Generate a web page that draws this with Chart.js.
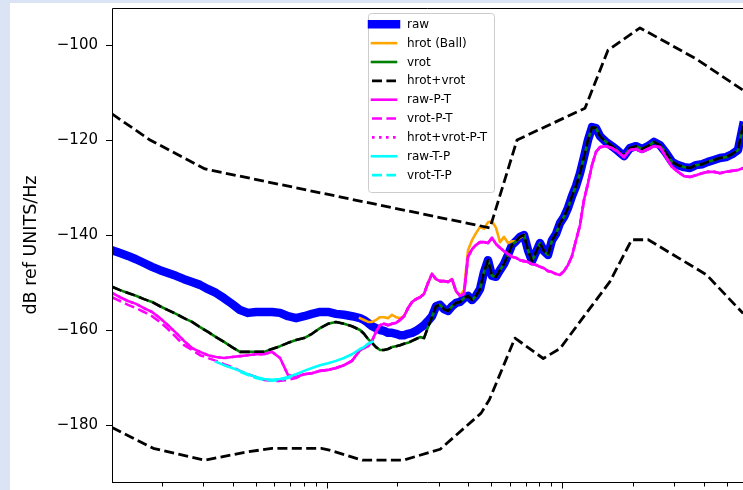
<!DOCTYPE html>
<html>
<head>
<meta charset="utf-8">
<script src="https://cdn.jsdelivr.net/npm/chart.js@4.4.1/dist/chart.umd.min.js"></script>
<style>
  html, body { margin: 0; padding: 0; width: 743px; height: 490px; overflow: hidden; background: #dbe4f4; }
  #wrap { position: absolute; left: 10px; top: 3px; width: 733px; height: 487px; background: #ffffff; }
  canvas { display: block; }
</style>
</head>
<body>
<div id="wrap"><canvas id="psd" width="733" height="487"></canvas></div>
<script>
// Shared frequency grid (Hz) for the measured spectra
const freqHz = [
  0.0012267,0.0013267,0.0014346,0.0015511,0.0016774,0.0018141,0.0019616,0.0021213,0.0022939,0.0024806,
  0.0026826,0.0029008,0.0031369,0.0033923,0.0036683,0.0039668,0.0042897,0.0046388,0.0050163,0.0054246,
  0.0058662,0.0063435,0.0068598,0.0074181,0.0080218,0.0086696,0.0093753,0.010138,0.010962,0.011855,
  0.012820,0.013863,
  0.014417,0.014992,0.015590,0.016212,0.016858,0.017531,0.018230,0.018957,0.019713,0.020499,
  0.021317,0.022167,0.023051,0.023970,0.024926,0.025920,0.026954,0.028029,0.029147,0.030310,
  0.031519,0.032776,0.034083,0.035442,0.036856,0.038326,0.039855,0.041444,0.043097,0.044816,
  0.046604,0.048463,0.050396,0.052406,0.054496,0.056670,0.058930,0.061280,0.063724,0.066266,
  0.068909,0.071658,0.074516,0.077488,0.080579,0.083793,0.087135,0.090611,0.094225,0.097983,
  0.10189,0.10596,0.11018,0.11458,0.11915,0.12390,0.12884,0.13398,0.13933,0.14488,
  0.15360,0.16288,0.17272,0.18316,0.19423,0.20597,0.21842,0.23162,0.24562,0.26046,
  0.27620,0.29289,0.31059,0.32936,0.34926,0.37036,0.39274,0.41647,0.44164,0.46833,
  0.49663,0.52664,0.55846,0.5864
];

const rawDb = [
  -143.2,-143.8,-144.4,-145.1,-145.9,-146.7,-147.4,-148.0,-148.6,-149.3,
  -149.9,-150.5,-151.4,-152.2,-153.3,-154.5,-155.8,-156.4,-156.2,-156.2,
  -156.2,-156.4,-157.1,-157.5,-157.1,-156.6,-156.2,-156.2,-156.6,-156.8,
  -157.1,-157.5,
  -157.9,-158.5,-159.2,-159.6,-160.0,-160.2,-160.6,-160.6,-160.8,-161.1,
  -161.1,-160.8,-160.6,-160.2,-159.6,-159.0,-158.1,-157.1,
  -155.0,-154.7,-155.6,-156.0,-155.0,-154.3,-154.1,-153.3,-152.8,-153.7,
  -152.8,-151.4,-147.8,-145.3,-148.6,-148.8,-147.4,-146.1,-144.2,-142.1,
  -141.3,-140.4,-140.0,-143.2,-145.5,-143.6,-141.7,-143.4,-144.2,-141.1,
  -139.8,-137.5,-136.2,-134.3,-131.8,-129.7,-127.0,-123.6,-120.0,-117.3,
  -117.5,-119.2,
  -120.4,-121.3,-122.3,-123.4,-121.7,-121.3,-121.9,-121.3,-120.4,-121.1,
  -122.7,-124.6,-125.3,-125.7,-125.9,-125.3,-125.1,-124.6,-124.2,-123.8,
  -123.6,-123.0,-122.1,-117.0
];

const hrotBallDb = [
  null,null,null,null,null,null,null,null,null,null,
  null,null,null,null,null,null,null,null,null,null,
  null,null,null,null,null,null,null,null,null,null,
  null,-157.5,
  -157.9,-158.3,-158.3,-157.9,-157.3,-157.3,-157.5,-156.8,-157.3,-157.5,
  -157.1,-155.4,-154.1,-153.5,-153.1,-152.4,-150.1,-148.2,-149.3,-149.7,
  -149.7,-149.9,-149.3,-151.8,-152.8,-151.6,-143.2,-141.1,-139.6,-138.3,
  -138.7,-137.3,-137.1,-138.5,-141.5,-140.4,-141.7,-141.3,-141.3,-140.6,
  -140.0,null,null,null,null,null,null,null,null,null,
  null,null,null,null,null,null,null,null,null,null,
  null,null,null,null,null,null,null,null,null,null,
  null,null,null,null,null,null,null,null,null,null,
  null,null,null,null
];

const vrotDb = [
  -150.9,-151.6,-152.2,-152.8,-153.5,-154.1,-155.0,-155.8,-156.6,-157.5,
  -158.3,-159.4,-160.4,-161.5,-162.5,-163.6,-164.6,-164.6,-164.6,-164.6,
  -164.0,-163.4,-162.7,-162.1,-161.7,-160.8,-159.6,-158.7,-158.3,-158.7,
  -159.2,-160.0,
  -160.8,-161.9,-162.7,-163.6,-164.2,-164.2,-164.0,-163.6,-163.4,-163.2,
  -162.9,-162.7,-162.3,-161.9,-161.5,-161.7,-159.4,-157.3,
  -155.0,-154.7,-155.6,-156.0,-155.0,-154.3,-154.1,-153.3,-152.8,-153.7,
  -152.8,-151.4,-147.8,-145.3,-148.6,-148.8,-147.4,-146.1,-144.2,-142.1,
  -141.3,-140.4,-140.0,-143.2,-145.5,-143.6,-141.7,-143.4,-144.2,-141.1,
  -139.8,-137.5,-136.2,-134.3,-131.8,-129.7,-127.0,-123.6,-120.0,-117.3,
  -117.5,-119.2,
  -120.4,-121.3,-122.3,-123.4,-121.7,-121.3,-121.9,-121.3,-120.4,-121.1,
  -122.7,-124.6,-125.3,-125.7,-125.9,-125.3,-125.1,-124.6,-124.2,-123.8,
  -123.6,-123.0,-122.1,-117.0
];

const hrotVrotDb = [
  -150.9,-151.6,-152.2,-152.8,-153.5,-154.1,-155.0,-155.8,-156.6,-157.5,
  -158.3,-159.4,-160.4,-161.5,-162.5,-163.6,-164.6,-164.6,-164.6,-164.6,
  -164.0,-163.4,-162.7,-162.1,-161.7,-160.8,-159.6,-158.7,-158.3,-158.7,
  -159.2,-160.0,
  -160.8,-161.9,-162.7,-163.6,-164.2,-164.2,-164.0,-163.6,-163.4,-163.2,
  -162.9,-162.7,-162.3,-161.9,-161.5,-161.7,-159.4,-157.3,
  -155.0,-154.7,-155.6,-156.0,-155.0,-154.3,-154.1,-153.3,-152.8,-153.7,
  -152.8,-151.4,-147.8,-145.3,-148.6,-148.8,-147.4,-146.1,-144.2,-142.1,
  -141.3,-140.4,-140.0,-143.2,-145.5,-143.6,-141.7,-143.4,-144.2,-141.1,
  -139.8,-137.5,-136.2,-134.3,-131.8,-129.7,-127.0,-123.6,-120.0,-117.3,
  -117.5,-119.2,
  -120.4,-121.3,-122.3,-123.4,-121.7,-121.3,-121.9,-121.3,-120.4,-121.1,
  -122.7,-124.6,-125.3,-125.7,-125.9,-125.3,-125.1,-124.6,-124.2,-123.8,
  -123.6,-123.0,-122.1,-117.0
];

const rawPTDb = [
  -152.2,-153.1,-153.9,-154.5,-155.4,-156.2,-157.5,-159.0,-160.6,-162.3,
  -163.8,-164.6,-165.3,-165.7,-165.9,-165.7,-165.5,-165.3,-165.1,-165.1,
  -164.6,-165.9,-169.5,-169.9,-169.3,-169.1,-168.6,-168.4,-168.0,-167.4,
  -166.5,-164.2,
  -163.8,-163.4,-162.3,-160.4,-159.0,-158.7,-159.0,-158.7,-158.5,-157.9,
  -157.1,-155.4,-154.1,-153.5,-153.1,-152.4,-150.1,-148.2,-149.3,-149.7,
  -149.7,-149.9,-149.3,-151.8,-152.8,-152.4,-144.6,-143.0,-142.1,-141.5,
  -141.5,-141.7,-140.6,-141.9,-142.7,-143.4,-144.0,-144.6,-144.8,-145.3,
  -145.5,-145.7,-146.1,-146.3,-146.7,-147.0,-147.6,-147.8,-148.2,-148.4,
  -147.6,-146.3,-144.4,-141.1,-137.9,-132.6,-129.1,-125.3,-122.5,-121.5,
  -121.3,-121.7,-122.5,-123.6,-122.1,-121.9,-122.5,-121.9,-121.3,-121.5,
  -123.6,-125.7,-126.7,-127.6,-127.8,-127.4,-127.0,-126.7,-126.7,-127.0,
  -126.7,-126.5,-126.3,-125.9
];

const vrotPTDb = [
  -153.1,-153.9,-154.7,-155.4,-156.2,-157.1,-158.3,-159.8,-161.5,-163.2,
  -164.2,-165.3,-165.9,-166.5,-167.2,-167.8,-168.6,-169.3,-169.9,-170.5,
  -170.7,-170.7,-170.5,-170.1,-169.3,-169.1,-168.6,-168.4,-168.0,-167.4,
  -166.5,-164.2,
  -163.8,-163.4,-162.3,-160.4,-159.0,-158.7,-159.0,-158.7,-158.5,-157.9,
  -157.1,-155.4,-154.1,-153.5,-153.1,-152.4,-150.1,-148.2,-149.3,-149.7,
  -149.7,-149.9,-149.3,-151.8,-152.8,-152.4,-144.6,-143.0,-142.1,-141.5,
  -141.5,-141.7,-140.6,-141.9,-142.7,-143.4,-144.0,-144.6,-144.8,-145.3,
  -145.5,-145.7,-146.1,-146.3,-146.7,-147.0,-147.6,-147.8,-148.2,-148.4,
  -147.6,-146.3,-144.4,-141.1,-137.9,-132.6,-129.1,-125.3,-122.5,-121.5,
  -121.3,-121.7,-122.5,-123.6,-122.1,-121.9,-122.5,-121.9,-121.3,-121.5,
  -123.6,-125.7,-126.7,-127.6,-127.8,-127.4,-127.0,-126.7,-126.7,-127.0,
  -126.7,-126.5,-126.3,-125.9
];

const hrotVrotPTDb = [
  -152.2,-153.1,-153.9,-154.5,-155.4,-156.2,-157.5,-159.0,-160.6,-162.3,
  -163.8,-164.6,-165.3,-165.7,-165.9,-165.7,-165.5,-165.3,-165.1,-165.1,
  -164.6,-165.9,-169.5,-169.9,-169.3,-169.1,-168.6,-168.4,-168.0,-167.4,
  -166.5,-164.2,
  -163.8,-163.4,-162.3,-160.4,-159.0,-158.7,-159.0,-158.7,-158.5,-157.9,
  -157.1,-155.4,-154.1,-153.5,-153.1,-152.4,-150.1,-148.2,-149.3,-149.7,
  -149.7,-149.9,-149.3,-151.8,-152.8,-152.4,-144.6,-143.0,-142.1,-141.5,
  -141.5,-141.7,-140.6,-141.9,-142.7,-143.4,-144.0,-144.6,-144.8,-145.3,
  -145.5,-145.7,-146.1,-146.3,-146.7,-147.0,-147.6,-147.8,-148.2,-148.4,
  -147.6,-146.3,-144.4,-141.1,-137.9,-132.6,-129.1,-125.3,-122.5,-121.5,
  -121.3,-121.7,-122.5,-123.6,-122.1,-121.9,-122.5,-121.9,-121.3,-121.5,
  -123.6,-125.7,-126.7,-127.6,-127.8,-127.4,-127.0,-126.7,-126.7,-127.0,
  -126.7,-126.5,-126.3,-125.9
];

const rawTPDb = [
  null,null,null,null,null,null,null,null,null,null,
  null,null,null,-166.7,-167.4,-168.0,-168.6,-169.3,-169.9,-170.3,
  -170.5,-170.3,-169.9,-169.3,-168.6,-168.0,-167.4,-167.0,-166.5,-165.9,
  -165.1,-164.0,
  -163.6,-162.9,-162.5,null,null,null,null,null,null,null,
  null,null,null,null,null,null,null,null,null,null,
  null,null,null,null,null,null,null,null,null,null,
  null,null,null,null,null,null,null,null,null,null,
  null,null,null,null,null,null,null,null,null,null,
  null,null,null,null,null,null,null,null,null,null,
  null,null,null,null,null,null,null,null,null,null,
  null,null,null,null,null,null,null,null,null,null,
  null,null,null,null
];

const vrotTPDb = [
  null,null,null,null,null,null,null,null,null,null,
  null,null,null,null,null,null,-168.8,-169.5,-170.1,-170.5,
  -170.7,-170.5,-170.1,-169.5,null,null,null,null,null,null,
  null,null,
  null,null,null,null,null,null,null,null,null,null,
  null,null,null,null,null,null,null,null,null,null,
  null,null,null,null,null,null,null,null,null,null,
  null,null,null,null,null,null,null,null,null,null,
  null,null,null,null,null,null,null,null,null,null,
  null,null,null,null,null,null,null,null,null,null,
  null,null,null,null,null,null,null,null,null,null,
  null,null,null,null,null,null,null,null,null,null,
  null,null,null,null
];

// Peterson high / low noise models
const highNoiseHz = [0.0012267,0.0017787,0.0030457,0.049411,0.064365,0.1251,0.1566,0.2142,0.3704,0.5864];
const highNoiseDb = [-114.5,-120.0,-126.1,-138.5,-120.0,-113.3,-101.1,-96.4,-102.9,-109.5];
const lowNoiseHz = [0.0012267,0.001837,0.003032,0.004433,0.00586,0.0095,0.01029,0.01419,0.02118,0.03036,
                    0.0453,0.0491,0.0631,0.0832,0.098,0.1596,0.1975,0.2323,0.411,0.5864];
const lowNoiseDb = [-180.5,-184.9,-187.4,-185.8,-184.9,-184.9,-185.3,-187.4,-187.4,-185.1,
                    -177.5,-174.7,-161.7,-166.0,-163.9,-149.8,-141.0,-141.0,-148.4,-156.5];

// Axis settings
const xMinHz = 0.0012267, xMaxHz = 0.5864;
const yMinDb = -192.0, yMaxDb = -92.21;
const yTicksDb = [-180, -160, -140, -120, -100];
const xMajorHz = [0.01, 0.1];
const xMinorHz = [0.002,0.003,0.004,0.005,0.006,0.007,0.008,0.009,
                  0.02,0.03,0.04,0.05,0.06,0.07,0.08,0.09,
                  0.2,0.3,0.4,0.5];

const DASH = [10, 4.4];
const DOT = [2.6, 4.4];
const LW = 2.6;

const onGrid = ys => freqHz.map((f, i) => ({ x: f, y: ys[i] }));
const pairs = (xs, ys) => xs.map((f, i) => ({ x: f, y: ys[i] }));

function series(label, data, color, width, dash, order, inLegend) {
  return {
    label, data,
    borderColor: color, backgroundColor: color,
    borderWidth: width, borderDash: dash,
    borderCapStyle: dash.length ? 'butt' : 'square',
    borderJoinStyle: 'round',
    pointRadius: 0, pointHoverRadius: 0,
    fill: false, tension: 0, spanGaps: false, clip: 0,
    order, inLegend
  };
}

const datasets = [
  series('raw', onGrid(rawDb), '#0000ff', 8.5, [], 20, true),
  series('hrot (Ball)', onGrid(hrotBallDb), '#ffa500', LW, [], 19, true),
  series('vrot', onGrid(vrotDb), '#008000', LW, [], 18, true),
  series('hrot+vrot', onGrid(hrotVrotDb), '#000000', LW, DASH, 17, true),
  series('raw-P-T', onGrid(rawPTDb), '#ff00ff', LW, [], 16, true),
  series('vrot-P-T', onGrid(vrotPTDb), '#ff00ff', LW, DASH, 15, true),
  series('hrot+vrot-P-T', onGrid(hrotVrotPTDb), '#ff00ff', LW, DOT, 14, true),
  series('raw-T-P', onGrid(rawTPDb), '#00ffff', LW, [], 13, true),
  series('vrot-T-P', onGrid(vrotTPDb), '#00ffff', LW, DASH, 12, true),
  series('NHNM', pairs(highNoiseHz, highNoiseDb), '#000000', 2.8, DASH, 11, false),
  series('NLNM', pairs(lowNoiseHz, lowNoiseDb), '#000000', 2.8, DASH, 10, false)
];

// Axes frame (left, top, bottom spines) and log x tick marks
const frameAndTicks = {
  id: 'frameAndTicks',
  afterDatasetsDraw(chart) {
    const { ctx, chartArea: a, scales: { x } } = chart;
    ctx.save();
    ctx.strokeStyle = '#000000';
    ctx.lineWidth = 1;
    ctx.setLineDash([]);
    ctx.beginPath();
    ctx.moveTo(a.left + 0.5, a.bottom + 0.5);
    ctx.lineTo(a.left + 0.5, a.top + 0.5);
    ctx.lineTo(a.right, a.top + 0.5);
    ctx.moveTo(a.left, a.bottom + 0.5);
    ctx.lineTo(a.right, a.bottom + 0.5);
    const tick = (v, len) => {
      const px = Math.round(x.getPixelForValue(v)) + 0.5;
      ctx.moveTo(px, a.bottom + 0.5);
      ctx.lineTo(px, a.bottom + 0.5 + len);
    };
    xMajorHz.forEach(v => tick(v, 6));
    xMinorHz.forEach(v => tick(v, 4));
    ctx.stroke();
    ctx.restore();
  }
};

// Framed legend with line samples
const boxLegend = {
  id: 'boxLegend',
  afterDraw(chart) {
    const { ctx, chartArea: a } = chart;
    const items = chart.data.datasets.filter(d => d.inLegend);
    const bx = a.left + 256.5, by = a.top + 5.5, bw = 126, bh = 179;
    ctx.save();
    ctx.beginPath();
    ctx.roundRect(bx, by, bw, bh, 3);
    ctx.fillStyle = 'rgba(255,255,255,0.8)';
    ctx.fill();
    ctx.strokeStyle = '#cccccc';
    ctx.lineWidth = 1;
    ctx.stroke();
    ctx.font = '12px "DejaVu Sans"';
    ctx.textBaseline = 'alphabetic';
    ctx.textAlign = 'left';
    items.forEach((d, i) => {
      const cy = by + 10.8 + i * 18.85;
      ctx.beginPath();
      ctx.setLineDash(d.borderDash);
      ctx.lineCap = d.borderDash.length ? 'butt' : 'square';
      ctx.lineWidth = d.borderWidth;
      ctx.strokeStyle = d.borderColor;
      ctx.moveTo(bx + 3.5, cy);
      ctx.lineTo(bx + 27.5, cy);
      ctx.stroke();
      ctx.setLineDash([]);
      ctx.fillStyle = '#000000';
      ctx.fillText(d.label, bx + 38.5, cy + 3.5);
    });
    ctx.restore();
  }
};

new Chart(document.getElementById('psd'), {
  type: 'line',
  data: { datasets },
  options: {
    responsive: false,
    animation: false,
    devicePixelRatio: 1,
    events: [],
    layout: { padding: { top: 5, right: 0, bottom: 0, left: 0 } },
    plugins: { legend: { display: false }, tooltip: { enabled: false } },
    scales: {
      x: {
        type: 'logarithmic',
        min: xMinHz, max: xMaxHz,
        ticks: { display: false },
        grid: { display: false },
        border: { display: false },
        afterBuildTicks: s => { s.ticks = []; },
        afterFit: s => { s.height = 8; s.paddingLeft = 0; s.paddingRight = 0; }
      },
      y: {
        type: 'linear',
        min: yMinDb, max: yMaxDb,
        afterBuildTicks: s => { s.ticks = yTicksDb.map(v => ({ value: v })); },
        ticks: {
          color: '#000000',
          font: { family: 'DejaVu Sans', size: 15 },
          padding: 8,
          callback: v => (v < 0 ? '\u2212' + Math.abs(v) : String(v))
        },
        grid: { display: true, drawOnChartArea: false, drawTicks: true, tickLength: 6, tickColor: '#000000', tickWidth: 1 },
        border: { display: false },
        title: {
          display: true,
          text: 'dB ref UNITS/Hz',
          color: '#000000',
          font: { family: 'DejaVu Sans', size: 17.5, lineHeight: 1.2 },
          padding: { top: 10.5, bottom: 0 }
        },
        afterFit: s => { s.width = 102; s.paddingTop = 0; s.paddingBottom = 0; }
      }
    }
  },
  plugins: [frameAndTicks, boxLegend]
});
</script>
</body>
</html>
